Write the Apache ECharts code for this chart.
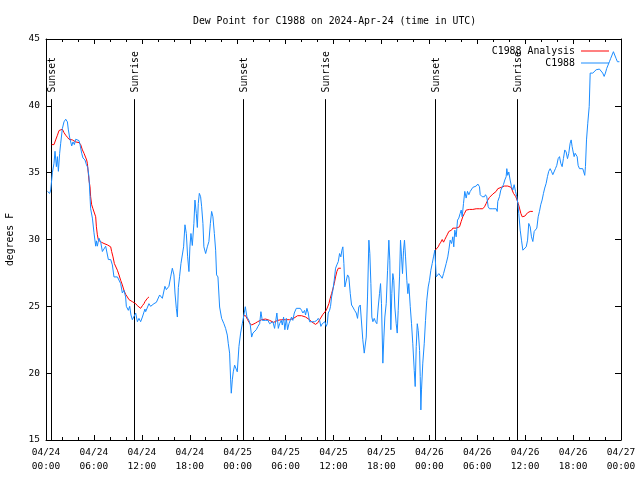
<!DOCTYPE html>
<html><head><meta charset="utf-8">
<script src="https://cdn.jsdelivr.net/npm/echarts@6/dist/echarts.min.js"></script>
<style>html,body{margin:0;padding:0;background:#fff}#c{width:640px;height:480px}</style>
</head><body><div id="c"></div>
<script>
// ---- data (hours since 04/24 00:00 UTC, degrees F) ----
const xTickLabels = ['04/24\n00:00','04/24\n06:00','04/24\n12:00','04/24\n18:00','04/25\n00:00','04/25\n06:00','04/25\n12:00','04/25\n18:00','04/26\n00:00','04/26\n06:00','04/26\n12:00','04/26\n18:00','04/27\n00:00'];
const sunTimes = [0.65, 11.05, 24.66, 34.92, 48.74, 58.95];
const sunLabels = ['Sunset','Sunrise','Sunset','Sunrise','Sunset','Sunrise'];

const c1988 = [[0.18,33.6],[0.46,33.45],[0.59,33.7],[0.80,35.0],[1.00,35.7],[1.13,36.6],[1.30,35.45],[1.43,36.2],[1.55,35.1],[1.71,36.45],[1.84,37.2],[2.05,38.3],[2.25,38.8],[2.47,39.0],[2.68,38.8],[2.80,38.2],[2.97,37.6],[3.22,37.0],[3.38,37.3],[3.55,37.1],[3.72,37.5],[3.97,37.6],[4.13,37.4],[4.26,37.1],[4.47,36.45],[4.63,36.1],[4.88,35.95],[5.06,35.6],[5.22,35.4],[5.38,34.7],[5.51,33.2],[5.59,32.3],[5.81,31.6],[6.01,30.5],[6.22,29.5],[6.31,29.9],[6.43,29.5],[6.63,30.1],[6.85,29.8],[7.06,29.1],[7.26,29.1],[7.47,29.5],[7.68,29.4],[7.81,28.5],[8.10,28.5],[8.31,28.1],[8.51,27.2],[8.94,27.2],[9.14,27.2],[9.35,26.7],[9.56,26.0],[9.76,26.2],[9.97,25.7],[10.06,25.0],[10.31,24.7],[10.48,25.0],[10.64,24.35],[10.81,24.0],[11.01,24.1],[11.23,24.5],[11.44,23.85],[11.64,24.1],[11.85,23.85],[12.07,24.2],[12.39,24.8],[12.48,24.6],[12.69,24.5],[12.89,25.2],[13.10,25.0],[13.52,25.2],[13.82,25.3],[14.02,25.2],[14.23,25.85],[14.44,25.95],[14.57,25.6],[14.69,25.5],[14.89,26.5],[15.07,26.25],[15.27,26.15],[15.39,26.5],[15.61,27.2],[15.82,27.85],[16.02,27.35],[16.15,26.0],[16.32,24.85],[16.45,24.2],[16.57,26.4],[16.73,27.25],[16.90,28.2],[17.07,28.2],[17.23,29.45],[17.40,31.1],[17.57,30.45],[17.73,28.75],[17.90,27.6],[18.02,29.45],[18.15,30.45],[18.32,29.55],[18.52,31.2],[18.65,32.95],[18.82,31.95],[18.95,30.9],[19.07,32.7],[19.20,33.45],[19.36,33.2],[19.49,32.45],[19.65,31.2],[19.77,29.45],[19.99,28.95],[20.20,29.45],[20.40,29.85],[20.58,31.2],[20.74,32.1],[20.90,31.7],[21.08,30.45],[21.24,29.2],[21.36,27.35],[21.53,27.2],[21.74,24.95],[21.99,24.1],[22.28,23.7],[22.49,23.35],[22.70,22.85],[22.83,22.2],[22.99,21.5],[23.12,19.5],[23.20,18.5],[23.33,19.5],[23.45,20.1],[23.62,20.6],[23.83,20.6],[23.95,20.1],[24.16,22.0],[24.37,23.0],[24.58,23.7],[24.78,24.35],[24.96,24.97],[25.16,24.2],[25.41,23.95],[25.58,23.6],[25.75,22.7],[25.91,23.0],[26.12,23.1],[26.33,23.25],[26.54,23.5],[26.75,23.7],[26.91,24.6],[27.08,23.95],[27.25,23.85],[27.50,23.95],[27.79,23.95],[28.00,23.7],[28.21,23.6],[28.41,23.85],[28.62,23.35],[28.75,23.85],[28.91,24.5],[29.09,23.35],[29.25,23.7],[29.46,23.95],[29.59,23.6],[29.75,24.2],[29.91,23.25],[30.09,24.1],[30.25,23.25],[30.42,23.7],[30.59,23.6],[30.75,24.2],[30.91,23.95],[31.09,24.5],[31.34,24.85],[31.59,24.85],[31.84,24.85],[32.00,24.7],[32.17,24.5],[32.38,24.7],[32.50,24.35],[32.67,24.85],[32.84,24.5],[33.00,23.85],[33.34,23.85],[33.63,23.85],[33.92,23.95],[34.09,24.1],[34.26,23.95],[34.42,23.5],[34.59,23.7],[34.76,23.6],[34.92,23.85],[35.09,23.5],[35.22,23.7],[35.34,24.5],[35.51,24.7],[35.63,25.0],[35.76,25.7],[35.92,26.2],[36.09,26.95],[36.26,27.85],[36.42,28.1],[36.60,28.35],[36.76,28.95],[36.92,28.7],[37.05,29.2],[37.17,29.45],[37.30,28.2],[37.42,26.45],[37.60,26.55],[37.76,27.35],[37.92,27.2],[38.10,25.95],[38.26,25.1],[38.42,24.95],[38.64,24.7],[38.85,24.5],[39.01,24.1],[39.17,24.95],[39.35,25.1],[39.51,25.1],[39.67,22.5],[39.85,21.5],[39.97,21.5],[40.10,22.7],[40.26,25.7],[40.43,29.95],[40.55,28.95],[40.68,26.7],[40.80,24.2],[40.93,23.85],[41.10,24.1],[41.26,23.85],[41.43,23.7],[41.60,24.95],[41.76,25.95],[41.89,26.7],[42.01,25.2],[42.18,20.75],[42.31,22.7],[42.43,24.2],[42.60,25.2],[42.77,27.7],[42.93,29.95],[43.05,28.45],[43.18,23.25],[43.30,25.95],[43.43,27.45],[43.55,26.95],[43.68,24.95],[43.85,23.7],[43.98,23.0],[44.10,24.7],[44.27,27.2],[44.39,29.95],[44.52,28.7],[44.64,27.45],[44.77,29.2],[44.89,29.95],[45.02,28.7],[45.18,26.95],[45.31,25.95],[45.43,26.7],[45.61,25.0],[45.77,23.7],[45.93,22.2],[46.11,20.2],[46.23,19.0],[46.36,22.0],[46.49,23.7],[46.61,23.2],[46.78,21.7],[46.86,19.75],[46.94,17.25],[47.02,18.75],[47.18,20.75],[47.36,22.2],[47.52,23.95],[47.68,25.45],[47.86,26.45],[48.02,26.95],[48.19,27.7],[48.36,28.2],[48.52,28.7],[48.69,29.2],[48.86,27.2],[48.94,27.1],[49.19,27.45],[49.44,27.45],[49.61,27.1],[49.78,27.45],[50.11,28.2],[50.31,28.7],[50.44,29.2],[50.61,29.95],[50.78,29.7],[50.94,30.2],[51.06,29.45],[51.19,30.7],[51.36,30.2],[51.53,31.45],[51.69,31.6],[51.86,31.95],[51.99,32.2],[52.11,31.7],[52.28,32.7],[52.44,33.6],[52.61,33.1],[52.78,33.6],[52.95,33.35],[53.12,33.6],[53.28,33.7],[53.45,33.9],[53.66,33.95],[53.87,34.0],[54.07,34.15],[54.20,34.2],[54.28,33.95],[54.37,33.35],[54.62,33.2],[54.91,33.2],[55.03,33.35],[55.19,33.2],[55.37,32.45],[55.53,32.3],[55.95,32.3],[56.37,32.3],[56.50,32.1],[56.57,32.85],[56.78,33.2],[56.95,33.7],[57.12,33.8],[57.28,34.1],[57.45,34.45],[57.62,34.7],[57.70,35.3],[57.82,34.8],[57.95,35.05],[58.12,34.45],[58.29,33.95],[58.45,33.7],[58.62,34.1],[58.79,33.6],[58.95,33.2],[59.08,32.7],[59.20,31.95],[59.38,30.7],[59.54,29.95],[59.71,29.2],[59.92,29.2],[60.13,29.45],[60.30,29.95],[60.45,31.2],[60.63,30.95],[60.79,30.2],[60.96,29.85],[61.13,30.6],[61.29,30.7],[61.46,30.85],[61.63,31.7],[61.79,32.1],[61.95,32.6],[62.12,32.95],[62.29,33.45],[62.45,33.85],[62.63,34.2],[62.79,34.7],[62.95,35.1],[63.13,35.3],[63.29,35.1],[63.46,34.85],[63.63,34.95],[63.79,35.3],[63.96,35.55],[64.13,36.05],[64.30,36.2],[64.46,35.7],[64.63,35.45],[64.79,36.05],[64.96,36.7],[65.13,36.55],[65.30,36.05],[65.46,36.45],[65.63,37.2],[65.76,37.45],[65.88,36.95],[65.96,36.7],[66.13,36.2],[66.26,36.45],[66.38,36.55],[66.51,36.2],[66.63,35.55],[66.80,35.3],[67.05,35.3],[67.21,35.3],[67.34,35.05],[67.46,34.8],[67.55,35.45],[67.68,37.45],[67.84,38.7],[68.02,39.95],[68.14,42.45],[68.30,42.45],[68.47,42.45],[68.68,42.5],[68.89,42.7],[69.09,42.75],[69.30,42.75],[69.51,42.65],[69.71,42.45],[69.89,42.2],[70.05,42.45],[70.21,42.8],[70.38,43.05],[70.55,43.3],[70.71,43.55],[70.88,43.8],[71.05,44.05],[71.21,43.95],[71.38,43.55],[71.55,43.3],[71.80,43.3]];

const analysisSeg1 = [[0.71,37.1],[1.00,37.1],[1.21,37.45],[1.43,37.8],[1.63,38.15],[1.84,38.25],[2.05,38.25],[2.25,38.0],[2.47,37.8],[2.68,37.65],[2.88,37.5],[3.09,37.5],[3.30,37.45],[3.50,37.4],[3.72,37.3],[3.93,37.3],[4.13,37.25],[4.34,37.1],[4.56,36.7],[4.76,36.45],[4.97,36.4],[5.09,35.95],[5.18,35.7],[5.38,34.45],[5.51,33.95],[5.59,33.2],[5.72,32.6],[5.88,32.3],[6.10,32.2],[6.22,31.7],[6.31,30.95],[6.43,30.35],[6.56,29.95],[6.72,29.85],[6.93,29.8],[7.26,29.7],[7.47,29.65],[7.68,29.6],[7.88,29.55],[8.10,29.45],[8.22,29.1],[8.39,28.7],[8.56,28.2],[8.72,28.1],[8.94,27.7],[9.14,27.35],[9.35,26.95],[9.56,26.6],[9.76,26.2],[9.97,25.9],[10.19,25.7],[10.39,25.5],[10.60,25.45],[10.81,25.35],[11.01,25.3],[11.23,25.2],[11.44,25.05],[11.64,24.95],[11.85,24.85],[12.07,25.05],[12.27,25.2],[12.39,25.35],[12.48,25.45],[12.69,25.6],[12.89,25.7]];
const analysisSeg2 = [[24.73,24.3],[24.99,24.3],[25.24,24.0],[25.49,23.75],[25.74,23.6],[25.99,23.6],[26.24,23.75],[26.50,23.85],[26.75,23.95],[27.00,24.0],[27.25,24.05],[27.50,24.05],[27.75,24.03],[28.00,23.95],[28.25,23.85],[28.50,23.8],[28.75,23.85],[29.00,23.95],[29.25,24.0],[29.50,24.0],[29.75,24.0],[30.00,24.0],[30.25,24.0],[30.50,24.0],[30.75,24.05],[31.00,24.1],[31.25,24.2],[31.50,24.3],[31.75,24.35],[32.00,24.3],[32.25,24.25],[32.50,24.2],[32.75,24.1],[33.00,24.0],[33.25,23.85],[33.50,23.8],[33.75,23.65],[33.92,23.6],[34.09,23.8],[34.26,24.0],[34.47,24.2],[34.67,24.4],[34.88,24.5],[35.09,24.7],[35.26,24.95],[35.42,25.2],[35.59,25.6],[35.76,25.95],[35.92,26.3],[36.09,26.7],[36.26,27.2],[36.42,27.6],[36.60,27.85],[36.92,27.85]];
const analysisSeg3 = [[48.74,29.2],[48.94,29.25],[49.11,29.45],[49.27,29.65],[49.44,29.8],[49.61,30.0],[49.78,29.8],[49.94,30.0],[50.11,30.2],[50.28,30.4],[50.44,30.6],[50.61,30.7],[50.78,30.7],[50.94,30.85],[51.15,30.85],[51.36,30.85],[51.57,30.9],[51.78,30.95],[51.99,31.35],[52.19,31.7],[52.40,31.95],[52.61,32.2],[52.82,32.2],[53.03,32.25],[53.44,32.25],[53.87,32.3],[54.28,32.3],[54.69,32.3],[54.91,32.45],[55.12,32.7],[55.32,32.95],[55.53,33.15],[55.74,33.25],[55.95,33.4],[56.16,33.45],[56.37,33.6],[56.57,33.8],[56.78,33.85],[56.99,33.9],[57.20,33.95],[57.41,34.0],[57.62,34.0],[57.82,34.0],[58.03,34.0],[58.25,33.9],[58.37,33.7],[58.54,33.45],[58.70,33.45],[58.83,33.2],[58.95,33.1],[59.13,32.7],[59.29,32.35],[59.46,31.95],[59.63,31.7],[59.80,31.65],[59.96,31.75],[60.13,31.85],[60.30,32.0],[60.46,32.05],[60.63,32.1],[60.96,32.1]];

// ---- styling ----
const FONT = 'DejaVu Sans Mono';
const RED = '#ff0000';
const BLUE = '#1a8cff';
const sunLineTop = 40.5;
const sunLabelBase = 41.0;

const chart = echarts.init(document.getElementById('c'), null, {renderer: 'canvas'});

const baseX = {
  type: 'value', min: 0, max: 72, interval: 6,
  axisLine: {show: true, onZero: false, lineStyle: {color: '#000', width: 1}},
  axisTick: {show: true, inside: true, length: 5, lineStyle: {color: '#000'}},
  minorTick: {show: true, splitNumber: 3, length: 3, lineStyle: {color: '#000'}},
  splitLine: {show: false}
};
const baseY = {
  type: 'value', min: 15, max: 45, interval: 5,
  axisLine: {show: true, onZero: false, lineStyle: {color: '#000', width: 1}},
  axisTick: {show: true, inside: true, length: 6, lineStyle: {color: '#000'}},
  splitLine: {show: false}
};

function analysisSeries(seg) {
  return {
    name: 'C1988 Analysis', type: 'line', data: seg, showSymbol: false, symbol: 'none',
    lineStyle: {color: RED, width: 1}, itemStyle: {color: RED}, z: 3
  };
}

chart.setOption({
  animation: false,
  backgroundColor: '#fff',
  title: {
    text: 'Dew Point for C1988 on 2024-Apr-24 (time in UTC)',
    left: 188, top: 11,
    textStyle: {fontFamily: FONT, fontSize: 9.8, fontWeight: 'normal', color: '#000'}
  },
  legend: {
    data: ['C1988 Analysis', 'C1988'],
    orient: 'vertical', align: 'right',
    right: 26, top: 40,
    itemWidth: 28, itemHeight: 1, itemGap: 0,
    icon: 'rect',
    textStyle: {fontFamily: FONT, fontSize: 9.9, color: '#000', lineHeight: 12, padding: [0, 1, 0, 0]},
    selectedMode: false
  },
  grid: {left: 46, right: 19, top: 39, bottom: 40, containLabel: false, outerBoundsMode: 'none'},
  xAxis: [
    Object.assign({}, baseX, {
      position: 'bottom',
      axisLabel: {
        show: true, margin: 6, fontFamily: FONT, fontSize: 9.5, color: '#000', lineHeight: 14,
        formatter: v => xTickLabels[Math.round(v / 6)]
      }
    }),
    Object.assign({}, baseX, {position: 'top', axisLabel: {show: false}})
  ],
  yAxis: [
    Object.assign({}, baseY, {
      position: 'left',
      name: 'degrees F', nameLocation: 'middle', nameGap: 31, nameRotate: 90,
      nameTextStyle: {fontFamily: FONT, fontSize: 9.8, color: '#000'},
      axisLabel: {show: true, margin: 6, fontFamily: FONT, fontSize: 9.5, color: '#000'}
    }),
    Object.assign({}, baseY, {position: 'right', axisLabel: {show: false}})
  ],
  series: [
    {
      name: 'sun', type: 'custom', xAxisIndex: 0, yAxisIndex: 0, z: 1,
      data: sunTimes.map(t => [t, 15]),
      encode: {x: 0, y: 1},
      renderItem: function (params, api) {
        const h = api.value(0);
        const p0 = api.coord([h, 15]);
        const p1 = api.coord([h, sunLineTop]);
        const pt = api.coord([h, sunLabelBase]);
        const x = Math.round(p0[0]) + 0.5;
        return {
          type: 'group',
          children: [
            {type: 'line', shape: {x1: x, y1: p0[1], x2: x, y2: p1[1]}, style: {stroke: '#000', lineWidth: 1}},
            {type: 'text', x: x + 1, y: pt[1], rotation: Math.PI / 2,
              style: {text: sunLabels[params.dataIndex], font: '9.8px ' + FONT, fill: '#000', align: 'left', verticalAlign: 'middle'}}
          ]
        };
      }
    },
    analysisSeries(analysisSeg1),
    analysisSeries(analysisSeg2),
    analysisSeries(analysisSeg3),
    {
      name: 'C1988', type: 'line', data: c1988, showSymbol: false, symbol: 'none',
      lineStyle: {color: BLUE, width: 1}, itemStyle: {color: BLUE}, z: 4
    }
  ]
});
</script>
</body></html>
